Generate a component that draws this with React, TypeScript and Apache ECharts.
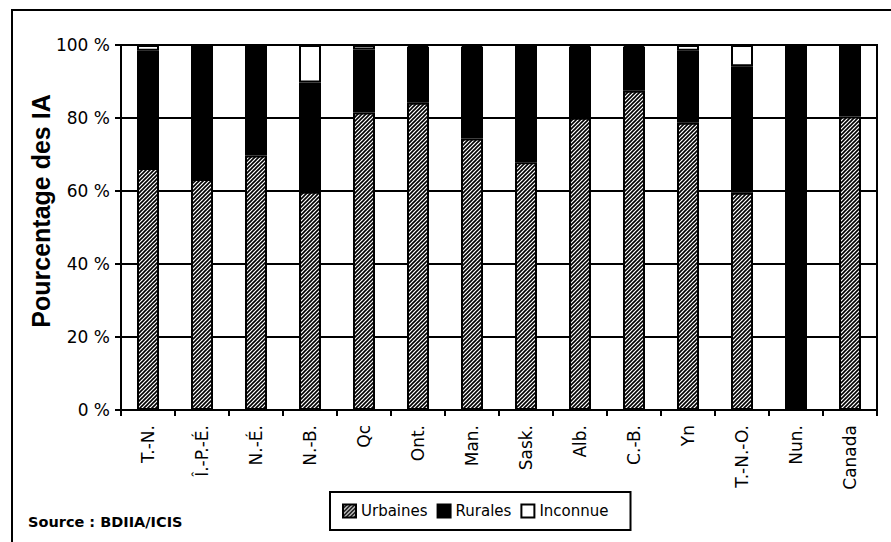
import React, { useEffect, useRef } from "react";
import * as echarts from "echarts";

const categories = ["T.-N.", "Î.-P.-É.", "N.-É.", "N.-B.", "Qc", "Ont.", "Man.", "Sask.", "Alb.", "C.-B.", "Yn", "T.-N.-O.", "Nun.", "Canada"];
const urbaines = [66.3, 63.3, 69.7, 59.8, 81.5, 84.2, 74.4, 67.9, 80.1, 87.5, 78.7, 59.5, 0, 80.4];
const rurales = [32.1, 36.7, 30.3, 29.9, 17.3, 15.3, 25.1, 32.1, 19.4, 12.0, 19.7, 34.7, 100, 18.5];
const inconnue = [1.6, 0, 0, 10.3, 1.2, 0.5, 0.5, 0, 0.5, 0.5, 1.6, 5.8, 0, 1.1];
const yTicks = [0, 20, 40, 60, 80, 100];
const seriesNames = ["Urbaines", "Rurales", "Inconnue"];
const yTitle = "Pourcentage des IA";
const sourceText = "Source : BDIIA/ICIS";

const hatchSvg =
  "<svg xmlns='http://www.w3.org/2000/svg' width='4' height='4'>" +
  "<rect width='4' height='4' fill='white'/>" +
  "<path d='M-1,5 L5,-1 M-1,1 L1,-1 M3,5 L5,3' stroke='black' stroke-width='1.6'/>" +
  "</svg>";
const hatchUrl = "data:image/svg+xml;utf8," + encodeURIComponent(hatchSvg);

export default function App() {
  const ref = useRef<HTMLDivElement>(null);
  useEffect(() => {
    if (!ref.current) return;
    const chart = echarts.init(ref.current, null, { renderer: "svg" });
    const hatch: any = { image: hatchUrl, repeat: "repeat", imageWidth: 4, imageHeight: 4 };
    const baseBar = {
      type: "bar",
      stack: "total",
      barWidth: 22,
      emphasis: { disabled: true },
    };
    chart.setOption({
      animation: false,
      backgroundColor: "#fff",
      textStyle: { fontFamily: "DejaVu Sans", color: "#000" },
      grid: {
        left: 121,
        right: 14,
        top: 45,
        bottom: 132,
        show: true,
        borderColor: "#000",
        borderWidth: 2,
        containLabel: false,
      },
      legend: {
        left: 330,
        top: 492,
        orient: "horizontal",
        data: seriesNames,
        itemWidth: 13,
        itemHeight: 13,
        itemGap: 9,
        padding: [11, 22, 11, 12],
        borderColor: "#000",
        borderWidth: 2,
        icon: "rect",
        selectedMode: false,
        textStyle: { fontFamily: "DejaVu Sans", fontSize: 15, color: "#000", lineHeight: 16 },
      },
      xAxis: {
        type: "category",
        data: categories,
        axisLine: { lineStyle: { color: "#000", width: 2 } },
        axisTick: { show: true, length: 6, lineStyle: { color: "#000", width: 2 }, alignWithLabel: false },
        axisLabel: {
          rotate: 90,
          interval: 0,
          margin: 15,
          fontFamily: "DejaVu Sans",
          fontSize: 17,
          color: "#000",
        },
        splitLine: { show: false },
      },
      yAxis: {
        type: "value",
        min: yTicks[0],
        max: yTicks[yTicks.length - 1],
        interval: 20,
        axisLine: { show: true, lineStyle: { color: "#000", width: 2 } },
        axisTick: { show: true, length: 6, inside: false, lineStyle: { color: "#000", width: 2 } },
        axisLabel: {
          formatter: "{value} %",
          margin: 11,
          fontFamily: "DejaVu Sans",
          fontSize: 17,
          color: "#000",
        },
        splitLine: { show: true, lineStyle: { color: "#000", width: 2 } },
      },
      graphic: [
        {
          type: "rect",
          shape: { x: 12, y: 10, width: 900, height: 560 },
          style: { fill: "none", stroke: "#000", lineWidth: 2 },
          silent: true,
        },
        {
          type: "text",
          x: 41,
          y: 211,
          rotation: Math.PI / 2,
          style: {
            text: yTitle,
            fontFamily: "Liberation Sans",
            fontWeight: "bold",
            fontSize: 25,
            fill: "#000",
            align: "center",
            verticalAlign: "middle",
          },
        },
        {
          type: "text",
          x: 28,
          y: 522,
          style: {
            text: sourceText,
            fontFamily: "DejaVu Sans",
            fontWeight: "bold",
            fontSize: 14.5,
            fill: "#000",
            align: "left",
            verticalAlign: "middle",
          },
        },
      ],
      series: [
        {
          ...baseBar,
          name: seriesNames[0],
          data: urbaines,
          itemStyle: { color: hatch, borderColor: "#000", borderWidth: 2 },
        },
        {
          ...baseBar,
          name: seriesNames[1],
          data: rurales,
          itemStyle: { color: "#000", borderColor: "#000", borderWidth: 2 },
        },
        {
          ...baseBar,
          name: seriesNames[2],
          data: inconnue,
          itemStyle: { color: "#fff", borderColor: "#000", borderWidth: 2 },
        },
      ],
    });
    return () => chart.dispose();
  }, []);
  return (
    <div
      ref={ref}
      style={{ position: "absolute", left: 0, top: 0, width: 891, height: 542 }}
    />
  );
}
